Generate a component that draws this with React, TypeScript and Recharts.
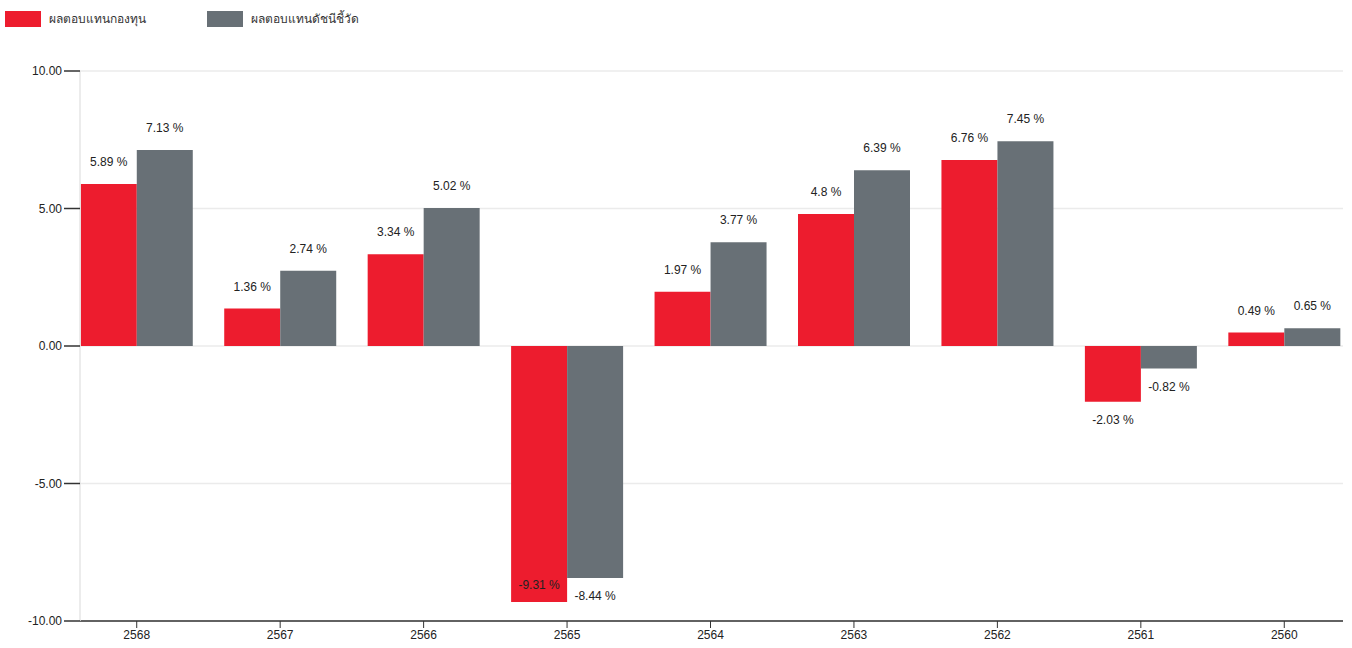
import React from "react";
import { BarChart, Bar, XAxis, YAxis, CartesianGrid, LabelList } from "recharts";

const years = ["2568", "2567", "2566", "2565", "2564", "2563", "2562", "2561", "2560"];
const fundReturns = [5.89, 1.36, 3.34, -9.31, 1.97, 4.8, 6.76, -2.03, 0.49];
const benchmarkReturns = [7.13, 2.74, 5.02, -8.44, 3.77, 6.39, 7.45, -0.82, 0.65];
const yTicks = [-10, -5, 0, 5, 10];
const seriesNames = ["ผลตอบแทนกองทุน", "ผลตอบแทนดัชนีชี้วัด"];
const seriesColors = ["#ED1C2E", "#687076"];

const data = years.map((y, i) => ({ year: y, fund: fundReturns[i], bench: benchmarkReturns[i] }));

const FONT = "'Liberation Sans', Arial, sans-serif";

const ValueLabel = (props: any) => {
  const { x, y, width, height, value } = props;
  if (value === undefined || value === null) return null;
  const top = Math.min(y, y + height);
  const bottom = Math.max(y, y + height);
  const cx = x + width / 2;
  let ty: number;
  if (value >= 0) {
    ty = top - 22;
  } else {
    ty = bottom + 18;
    if (ty > 600) ty = bottom - 17;
  }
  return (
    <text x={cx} y={ty} textAnchor="middle" dominantBaseline="central" fontSize={12} fill="#222" fontFamily={FONT}>
      {`${value} %`}
    </text>
  );
};

const LegendBlock = () => (
  <div style={{ position: "absolute", left: 0, top: 0, height: 40, width: 600, fontFamily: FONT, fontSize: 12, color: "#333", zIndex: 2 }}>
    {seriesNames.map((n, i) => (
      <div key={n} style={{ position: "absolute", left: i === 0 ? 5 : 207, top: 11, display: "flex", alignItems: "center" }}>
        <div style={{ width: 36, height: 16, background: seriesColors[i], marginRight: 8 }} />
        <span style={{ lineHeight: "16px" }}>{n}</span>
      </div>
    ))}
  </div>
);

export default function App() {
  return (
    <div style={{ position: "absolute", left: 0, top: 0, width: 1352, height: 648, background: "#fff" }}>
      <LegendBlock />
      <BarChart
        width={1352}
        height={648}
        data={data}
        margin={{ top: 71, right: 9, bottom: 0, left: 0 }}
        barCategoryGap="11%"
        barGap={0}
      >
        <CartesianGrid vertical={false} stroke="#ebebeb" strokeWidth={1.5} />
        <XAxis
          dataKey="year"
          height={27}
          padding={{ left: -15, right: -13 }}
          stroke="#333"
          tickLine={{ stroke: "#333" }}
          axisLine={{ stroke: "#333", strokeWidth: 1.5 }}
          tickSize={7}
          tick={{ fontSize: 12, fill: "#222", fontFamily: FONT }}
        />
        <YAxis
          width={80}
          domain={[-10, 10]}
          ticks={yTicks}
          allowDataOverflow
          tickFormatter={(v: number) => v.toFixed(2)}
          axisLine={{ stroke: "#e6e6e6", strokeWidth: 1.5 }}
          tickLine={{ stroke: "#333", strokeWidth: 1.5 }}
          tickSize={16}
          tickMargin={2}
          tick={{ fontSize: 12, fill: "#222", fontFamily: FONT }}
        />
        <Bar dataKey="fund" name={seriesNames[0]} fill={seriesColors[0]} isAnimationActive={false}>
          <LabelList dataKey="fund" content={<ValueLabel />} />
        </Bar>
        <Bar dataKey="bench" name={seriesNames[1]} fill={seriesColors[1]} isAnimationActive={false}>
          <LabelList dataKey="bench" content={<ValueLabel />} />
        </Bar>
      </BarChart>
    </div>
  );
}
